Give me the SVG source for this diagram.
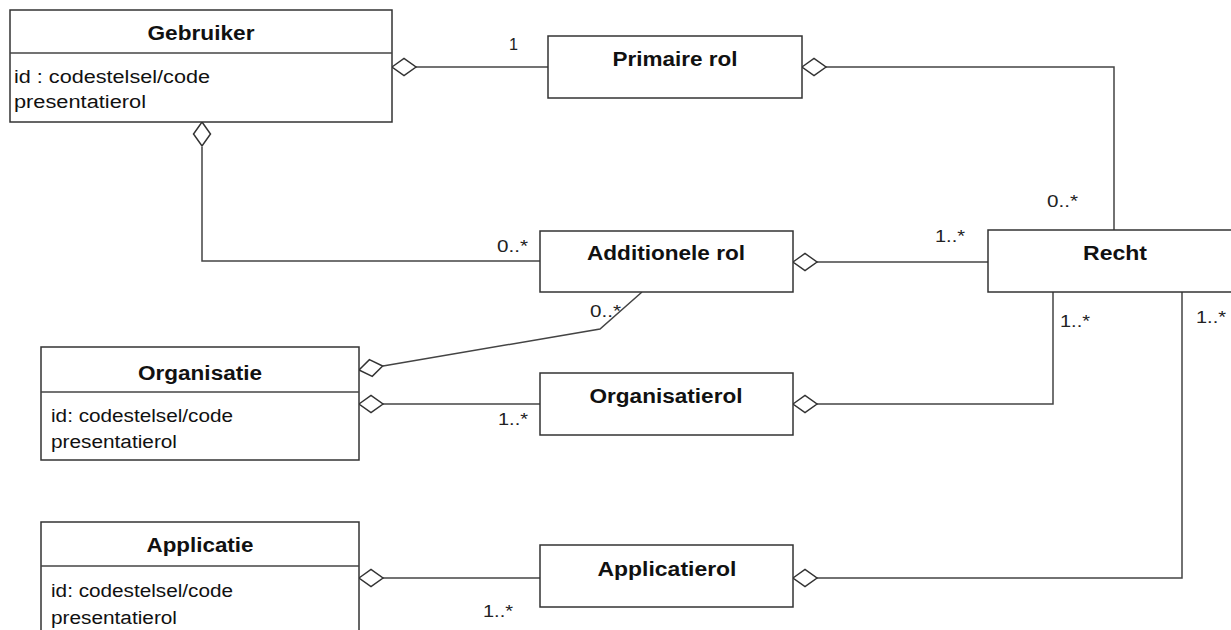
<svg xmlns="http://www.w3.org/2000/svg" width="1231" height="630" viewBox="0 0 1231 630">
<style>
.box{fill:#fff;stroke:#333;stroke-width:1.5}
.ln{fill:none;stroke:#444;stroke-width:1.5}
.dia{fill:#fff;stroke:#333;stroke-width:1.5}
.t{font-family:"Liberation Sans",Arial,sans-serif;font-weight:bold;font-size:20px;fill:#111;text-anchor:middle}
.a{font-family:"Liberation Sans",Arial,sans-serif;font-size:18px;fill:#111}
.m{font-family:"Liberation Sans",Arial,sans-serif;font-size:17px;fill:#222}
</style>
<defs>
<path id="dh" d="M0,0 L12,-8.5 L24,0 L12,8.5 Z" class="dia"/>
</defs>
<rect width="1231" height="630" fill="#fff"/>
<g id="connectors">
<path class="ln" d="M416,67 H548"/>
<path class="ln" d="M826,67 H1114 V230"/>
<path class="ln" d="M202,147 V261 H540"/>
<path class="ln" d="M817,262 H988"/>
<path class="ln" d="M383,366 L600,329 L642,292"/>
<path class="ln" d="M383,404 H540"/>
<path class="ln" d="M817,404 H1053 V292"/>
<path class="ln" d="M383,578 H540"/>
<path class="ln" d="M817,578 H1182 V292"/>
<use href="#dh" transform="translate(392,67)"/>
<use href="#dh" transform="translate(802,67)"/>
<use href="#dh" transform="translate(202,122) rotate(90)"/>
<use href="#dh" transform="translate(793,262)"/>
<use href="#dh" transform="translate(359,370) rotate(-9.7)"/>
<use href="#dh" transform="translate(359,404)"/>
<use href="#dh" transform="translate(793,404)"/>
<use href="#dh" transform="translate(359,578)"/>
<use href="#dh" transform="translate(793,578)"/>
<text class="m" x="509" y="50" textLength="9" lengthAdjust="spacingAndGlyphs">1</text>
<text class="m" x="1047" y="207" textLength="31" lengthAdjust="spacingAndGlyphs">0..*</text>
<text class="m" x="935" y="242" textLength="30" lengthAdjust="spacingAndGlyphs">1..*</text>
<text class="m" x="497" y="252" textLength="31" lengthAdjust="spacingAndGlyphs">0..*</text>
<text class="m" x="590" y="317" textLength="31" lengthAdjust="spacingAndGlyphs">0..*</text>
<text class="m" x="1060" y="327" textLength="30" lengthAdjust="spacingAndGlyphs">1..*</text>
<text class="m" x="1196" y="323" textLength="30" lengthAdjust="spacingAndGlyphs">1..*</text>
<text class="m" x="498" y="425" textLength="30" lengthAdjust="spacingAndGlyphs">1..*</text>
<text class="m" x="483" y="617" textLength="30" lengthAdjust="spacingAndGlyphs">1..*</text>
</g>
<g id="gebruiker">
<rect class="box" x="10" y="10" width="382" height="112"/>
<path class="ln" d="M10,53 H392"/>
<text class="t" x="201" y="40" textLength="107" lengthAdjust="spacingAndGlyphs">Gebruiker</text>
<text class="a" x="14" y="83" textLength="196" lengthAdjust="spacingAndGlyphs">id : codestelsel/code</text>
<text class="a" x="14" y="108" textLength="132" lengthAdjust="spacingAndGlyphs">presentatierol</text>
</g>
<g id="primaire-rol">
<rect class="box" x="548" y="36" width="254" height="62"/>
<text class="t" x="675" y="66" textLength="125" lengthAdjust="spacingAndGlyphs">Primaire rol</text>
</g>
<g id="additionele-rol">
<rect class="box" x="540" y="231" width="253" height="61"/>
<text class="t" x="666" y="260" textLength="158" lengthAdjust="spacingAndGlyphs">Additionele rol</text>
</g>
<g id="recht">
<rect class="box" x="988" y="230" width="260" height="62"/>
<text class="t" x="1115" y="260" textLength="64" lengthAdjust="spacingAndGlyphs">Recht</text>
</g>
<g id="organisatie">
<rect class="box" x="41" y="347" width="318" height="113"/>
<path class="ln" d="M41,392 H359"/>
<text class="t" x="200" y="380" textLength="124" lengthAdjust="spacingAndGlyphs">Organisatie</text>
<text class="a" x="51" y="422" textLength="182" lengthAdjust="spacingAndGlyphs">id: codestelsel/code</text>
<text class="a" x="51" y="448" textLength="126" lengthAdjust="spacingAndGlyphs">presentatierol</text>
</g>
<g id="organisatierol">
<rect class="box" x="540" y="373" width="253" height="62"/>
<text class="t" x="666" y="403" textLength="153" lengthAdjust="spacingAndGlyphs">Organisatierol</text>
</g>
<g id="applicatie">
<rect class="box" x="41" y="522" width="318" height="130"/>
<path class="ln" d="M41,566 H359"/>
<text class="t" x="200" y="552" textLength="107" lengthAdjust="spacingAndGlyphs">Applicatie</text>
<text class="a" x="51" y="597" textLength="182" lengthAdjust="spacingAndGlyphs">id: codestelsel/code</text>
<text class="a" x="51" y="624" textLength="126" lengthAdjust="spacingAndGlyphs">presentatierol</text>
</g>
<g id="applicatierol">
<rect class="box" x="540" y="545" width="253" height="62"/>
<text class="t" x="667" y="576" textLength="139" lengthAdjust="spacingAndGlyphs">Applicatierol</text>
</g>
</svg>
